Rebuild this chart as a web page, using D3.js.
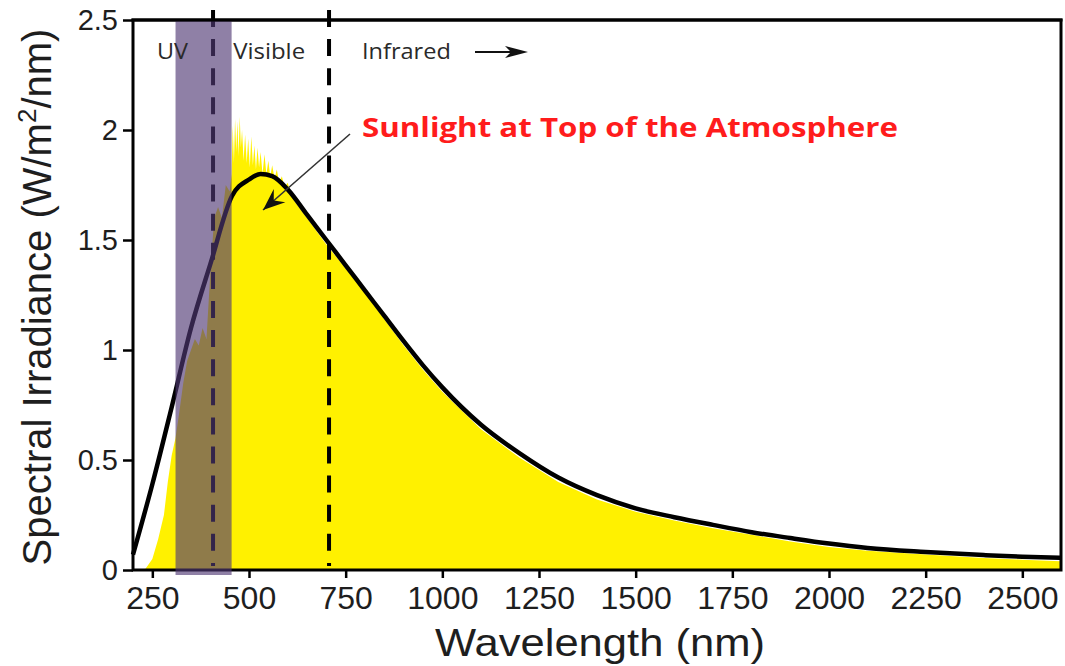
<!DOCTYPE html>
<html>
<head>
<meta charset="utf-8">
<script src="https://cdn.jsdelivr.net/npm/d3@7"></script>
<style>
  html, body { margin: 0; padding: 0; background: #fff; }
  svg { display: block; }
</style>
</head>
<body>
<svg id="chart" width="1065" height="666"></svg>
<script>
// ---- data ----
const xTicks = [250, 500, 750, 1000, 1250, 1500, 1750, 2000, 2250, 2500];
const yTicks = [0, 0.5, 1, 1.5, 2, 2.5];
const yTickLabels = ["0", "0.5", "1", "1.5", "2", "2.5"];

// Black reference curve
const curveWl  = [200, 250, 300, 350, 400, 456, 500, 530, 560, 600, 650, 700, 750, 800, 850, 900, 950, 1000, 1100, 1200, 1300, 1400, 1500, 1600, 1700, 1800, 1900, 2000, 2100, 2250, 2400, 2500, 2600];
const curveVal = [0.07, 0.39, 0.74, 1.10, 1.39, 1.70, 1.775, 1.80, 1.79, 1.73, 1.615, 1.50, 1.385, 1.27, 1.155, 1.04, 0.93, 0.83, 0.66, 0.53, 0.42, 0.34, 0.28, 0.24, 0.205, 0.172, 0.145, 0.12, 0.10, 0.082, 0.068, 0.06, 0.055];

const specWl  = [200, 230, 250, 265, 280, 290, 300, 310, 320, 330, 340, 350, 360, 370, 380, 390, 400, 410, 420, 430, 440, 450, 455,
                 458, 461, 464, 467, 470, 473, 476, 479, 482, 486, 490, 494, 498, 502, 506, 510, 514, 518, 522, 526, 530, 535, 540, 545, 550, 555, 560, 566, 572, 578, 585, 592, 600, 610, 620,
                 650, 700, 750, 800, 850, 900, 950, 1000, 1100, 1200, 1300, 1400, 1500, 1600, 1700, 1800, 1900, 2000, 2100, 2250, 2400, 2500, 2600];
const specVal = [0, 0.0, 0.05, 0.14, 0.25, 0.40, 0.52, 0.60, 0.72, 0.85, 0.95, 1.00, 1.05, 1.02, 1.10, 1.05, 1.35, 1.60, 1.65, 1.60, 1.75, 1.72, 1.80,
                 2.02, 1.85, 2.05, 1.90, 2.04, 1.88, 2.06, 1.92, 2.00, 1.86, 1.98, 1.85, 1.96, 1.83, 1.97, 1.84, 1.93, 1.82, 1.92, 1.83, 1.90, 1.80, 1.89, 1.80, 1.86, 1.79, 1.84, 1.78, 1.82, 1.76, 1.79, 1.74, 1.76, 1.70, 1.67,
                 1.60, 1.48, 1.37, 1.26, 1.14, 1.02, 0.91, 0.81, 0.64, 0.51, 0.40, 0.32, 0.265, 0.225, 0.19, 0.16, 0.13, 0.105, 0.088, 0.07, 0.055, 0.047, 0.04];

const uvBand = [310, 455];         // shaded UV band (nm)
const dividers = [407, 707];       // dashed region boundaries (nm)
const regionLabels = ["UV", "Visible", "Infrared"];
const regionLabelAt = [262, 459, 792]; // nm, left edge of each label

// ---- layout ----
const svg = d3.select("#chart");
const x = d3.scaleLinear().domain([200, 2600]).range([133, 1061]);
const y = d3.scaleLinear().domain([0, 2.5]).range([570, 20]);
const FONT = "'Liberation Sans', Arial, Helvetica, sans-serif";
const LFONT = "'Open Sans', 'Noto Sans', sans-serif";

// spectrum fill
const specData = specWl.map((w, i) => ({w, v: specVal[i]}));
svg.append("path")
  .datum(specData)
  .attr("fill", "#fff100")
  .attr("d", d3.area().x(d => x(d.w)).y0(y(0)).y1(d => y(d.v)).curve(d3.curveLinear));

// black curve
const curveData = curveWl.map((w, i) => ({w, v: curveVal[i]}));
svg.append("path")
  .datum(curveData)
  .attr("fill", "none")
  .attr("stroke", "#000")
  .attr("stroke-width", 4.5)
  .attr("stroke-linejoin", "round")
  .attr("d", d3.line().x(d => x(d.w)).y(d => y(d.v)).curve(d3.curveMonotoneX));

// frame (left, bottom, right)
svg.append("rect")
  .attr("x", x(200)).attr("y", y(2.5))
  .attr("width", x(2600) - x(200)).attr("height", y(0) - y(2.5))
  .attr("fill", "none").attr("stroke", "#000").attr("stroke-width", 3);

// dashed lines
svg.selectAll("line.div").data(dividers).enter().append("line")
  .attr("class", "div")
  .attr("x1", d => x(d)).attr("x2", d => x(d))
  .attr("y1", y(2.5) - 10).attr("y2", y(0) - 4)
  .attr("stroke", "#000").attr("stroke-width", 4)
  .attr("stroke-dasharray", "17,12.1");

// UV band
svg.append("rect")
  .attr("x", x(uvBand[0])).attr("y", y(2.5))
  .attr("width", x(uvBand[1]) - x(uvBand[0]))
  .attr("height", y(0) - y(2.5) + 5)
  .attr("fill", "rgb(80,57,115)").attr("fill-opacity", 0.64);

// top border redrawn over band
svg.append("line")
  .attr("x1", x(200) - 1.5).attr("x2", x(2600) + 1.5)
  .attr("y1", y(2.5)).attr("y2", y(2.5))
  .attr("stroke", "#000").attr("stroke-width", 3);

// axes
const yAxis = d3.axisLeft(y).tickValues(yTicks).tickSize(10).tickPadding(5)
  .tickFormat((d, i) => yTickLabels[i]);
const gy = svg.append("g").attr("transform", `translate(${x(200)},0)`).call(yAxis);
gy.select(".domain").remove();
gy.selectAll(".tick line").attr("stroke", "#000").attr("stroke-width", 2.5);
gy.selectAll(".tick text").attr("font-family", FONT).attr("font-size", 29).attr("fill", "#1e1e1e");

const xAxis = d3.axisBottom(x).tickValues(xTicks).tickSize(8).tickPadding(8)
  .tickFormat(d3.format("d"));
const gx = svg.append("g").attr("transform", `translate(0,${y(0)})`).call(xAxis);
gx.select(".domain").remove();
gx.selectAll(".tick line").attr("stroke", "#000").attr("stroke-width", 2.5);
gx.selectAll(".tick text").attr("font-family", FONT).attr("font-size", 32).attr("fill", "#1e1e1e");

// axis titles
svg.append("text")
  .attr("x", 600).attr("y", 656)
  .attr("text-anchor", "middle")
  .attr("font-family", FONT).attr("font-size", 39).attr("fill", "#1e1e1e")
  .attr("textLength", 330).attr("lengthAdjust", "spacingAndGlyphs")
  .text("Wavelength (nm)");

const yt = svg.append("text")
  .attr("transform", "translate(51,297) rotate(-90)")
  .attr("text-anchor", "middle")
  .attr("font-family", FONT).attr("font-size", 40).attr("fill", "#1e1e1e");
yt.append("tspan").text("Spectral Irradiance (W/m");
yt.append("tspan").attr("font-size", 26).attr("dy", -15).text("2");
yt.append("tspan").attr("dy", 15).text("/nm)");

// region labels
const rlW = [31, 72, 89];
svg.selectAll("text.rl").data(regionLabels).enter().append("text")
  .attr("class", "rl")
  .attr("x", (d, i) => x(regionLabelAt[i]))
  .attr("y", 59)
  .attr("font-family", LFONT).attr("font-size", 22).attr("fill", "#2a2a2a")
  .attr("textLength", (d, i) => rlW[i]).attr("lengthAdjust", "spacingAndGlyphs")
  .text(d => d);

// arrowhead marker
svg.append("defs").html(`
  <marker id="ah2" viewBox="0 0 10 10" refX="10" refY="5" markerWidth="22" markerHeight="22" markerUnits="userSpaceOnUse" orient="auto">
    <path d="M0,1 L10,5 L0,9 L3.5,5 Z" fill="#111"/>
  </marker>`);

// infrared arrow
svg.append("line")
  .attr("x1", 475).attr("y1", 52).attr("x2", 520).attr("y2", 52)
  .attr("stroke", "#111").attr("stroke-width", 2);
svg.append("path")
  .attr("d", "M528,52 L505,46 L511,52 L505,58 Z").attr("fill", "#111");

// annotation
svg.append("line")
  .attr("x1", 350).attr("y1", 134).attr("x2", 263).attr("y2", 210)
  .attr("stroke", "#333").attr("stroke-width", 1.6)
  .attr("marker-end", "url(#ah2)");
svg.append("text")
  .attr("x", 362).attr("y", 137)
  .attr("font-family", LFONT).attr("font-weight", "bold").attr("font-size", 26).attr("fill", "#ff1c1c")
  .attr("textLength", 536).attr("lengthAdjust", "spacingAndGlyphs")
  .text("Sunlight at Top of the Atmosphere");
</script>
</body>
</html>
